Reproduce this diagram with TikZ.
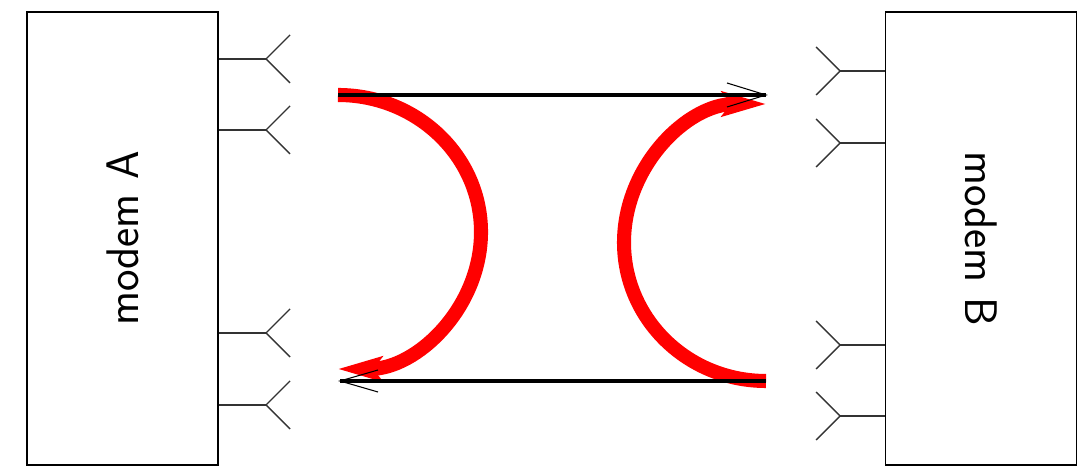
\documentclass[tikz,border=0pt]{standalone}
\usepackage{tikz}
\usetikzlibrary{arrows.meta, positioning, calc}

\tikzset{
  modem/.style={draw, line width=0.6pt, minimum width=38.2mm, minimum height=90.6mm,
    inner sep=0pt, font=\sffamily\fontsize{26}{30}\selectfont},
  antenna/.style={line width=0.8pt, black!80},
  link/.style={line width=2.6pt},
  barb/.style={line width=0.6pt},
  turn/.style={red, line width=8pt, -{Stealth[length=25pt, width=14pt, inset=5pt]}}
}

\begin{document}
\begin{tikzpicture}[x=0.2mm, y=0.2mm]
  \useasboundingbox (0,0) rectangle (1080,470);

  % the two modems
  \node[modem] (modemA) at (122.5,231.5) {\rotatebox{90}{modem\ A}};
  \node[modem] (modemB) at (981,231.5) {\rotatebox{-90}{modem\ B}};

  % antennas of modem A
  \foreach \y in {411, 340, 137, 65} {
    \draw[antenna] (modemA.east |- 0,\y) -- (266,\y) coordinate (a\y);
    \draw[antenna] ($(a\y)+(24,24)$) -- (a\y) -- ($(a\y)+(24,-24)$);
  }

  % antennas of modem B
  \foreach \y in {399, 327, 125, 54} {
    \draw[antenna] (modemB.west |- 0,\y) -- (840,\y) coordinate (b\y);
    \draw[antenna] ($(b\y)+(-24,24)$) -- (b\y) -- ($(b\y)+(-24,-24)$);
  }

  % ends of the links
  \coordinate (topL) at (338,375);
  \coordinate (topR) at (766,375);
  \coordinate (botR) at (766,89);
  \coordinate (botL) at (340,89);

  % turning back
  \draw[turn] (topL) arc[start angle=90, end angle=-90, x radius=143, y radius=137];
  \draw[turn] (botR) arc[start angle=270, end angle=90, x radius=142, y radius=138.5];

  % straight links, open heads
  \draw[link] (topL) -- (topR);
  \draw[barb] ($(topR)+(-39,12)$) -- (topR) -- ($(topR)+(-39,-12)$);
  \draw[link] (botR) -- (botL);
  \draw[barb] ($(botL)+(38,11)$) -- (botL) -- ($(botL)+(38,-11)$);
\end{tikzpicture}
\end{document}
